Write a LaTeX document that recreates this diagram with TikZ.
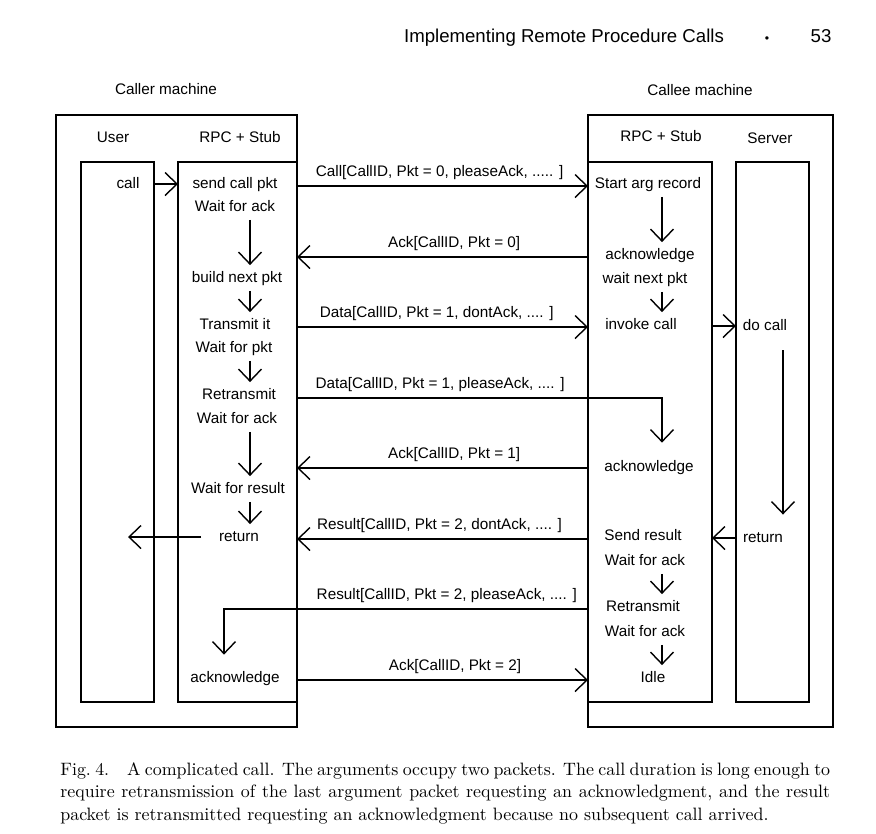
\documentclass[tikz,border=0pt]{standalone}
\usepackage{fontspec}
\newfontfamily\diagfont{Liberation Sans}
\usetikzlibrary{arrows.meta}
\tikzset{
    box/.style={draw, line width=1.3pt, inner sep=0pt, outer sep=0pt},
    lane/.style={draw, line width=0.7pt, inner sep=0pt, outer sep=0pt},
    lbl/.style={font=\diagfont\fontsize{8.7}{10}\selectfont, inner sep=1pt, text height=6.5pt, text depth=1.8pt},
    msg/.style={line width=0.8pt, -{Straight Barb[length=0.24cm, width=0.46cm]}},
    flow/.style={msg, shorten <=2pt, shorten >=2pt}
}

\begin{document}
\begin{tikzpicture}[x=0.02cm, y=-0.02cm]
\useasboundingbox (0,0) rectangle (876,833);
\node[lbl, font=\diagfont\fontsize{10.6}{12}\selectfont] (title) at (564,38) {Implementing Remote Procedure Calls};
\node[inner sep=0pt, font=\diagfont\fontsize{7}{8}\selectfont] (dot) at (767,40) {\textbullet};
\node[lbl, font=\diagfont\fontsize{10.6}{12}\selectfont] (page) at (821,38) {53};

\node[box, minimum width=4.82cm, minimum height=12.24cm] (caller) at (176.5,421) {};
\node[box, minimum width=4.9cm, minimum height=12.24cm] (callee) at (710.5,421) {};
\node[lane, minimum width=1.46cm, minimum height=10.8cm] (user) at (117.5,432) {};
\node[lane, minimum width=2.38cm, minimum height=10.8cm] (lrpc) at (237.5,432) {};
\node[lane, minimum width=2.48cm, minimum height=10.8cm] (rrpc) at (650,432) {};
\node[lane, minimum width=1.46cm, minimum height=10.8cm] (server) at (772.5,432) {};

\node[lbl] (callername) at (166,90) {Caller machine};
\node[lbl] (calleename) at (700,91) {Callee machine};
\node[lbl] (userhd) at (113,138) {User};
\node[lbl] (lrpchd) at (240,138) {RPC + Stub};
\node[lbl] (rrpchd) at (661,137) {RPC + Stub};
\node[lbl] (serverhd) at (770,139) {Server};

\node[lbl] (ucall) at (128,184) {call};
\node[lbl] (lsend) at (235,184) {send call pkt};
\node[lbl] (lwait1) at (235,207) {Wait for ack};
\node[lbl] (lbuild) at (237,278) {build next pkt};
\node[lbl] (ltrans) at (235,325) {Transmit it};
\node[lbl] (lwait2) at (234,348) {Wait for pkt};
\node[lbl] (lretr) at (239,395) {Retransmit};
\node[lbl] (lwait3) at (237,419) {Wait for ack};
\node[lbl] (lresult) at (238,489) {Wait for result};
\node[lbl] (lret) at (239,537) {return};
\node[lbl] (lack) at (235,678) {acknowledge};

\node[lbl] (rstart) at (648,184) {Start arg record};
\node[lbl] (rack0) at (650,255) {acknowledge};
\node[lbl] (rnext) at (645,279) {wait next pkt};
\node[lbl] (rinvoke) at (641,325) {invoke call};
\node[lbl] (rack1) at (649,467) {acknowledge};
\node[lbl] (rsend) at (643,536) {Send result};
\node[lbl] (rwait1) at (645,561) {Wait for ack};
\node[lbl] (rretr) at (643,607) {Retransmit};
\node[lbl] (rwait2) at (645,632) {Wait for ack};
\node[lbl] (ridle) at (653,678) {Idle};

\node[lbl] (sdo) at (765,326) {do call};
\node[lbl] (sret) at (763,538) {return};

\coordinate (la) at (250,0);
\coordinate (lb) at (224,0);
\coordinate (ra) at (662,0);
\coordinate (sa) at (783,0);
\coordinate (r1) at (0,186);
\coordinate (r2) at (0,257);
\coordinate (r3) at (0,327);
\coordinate (r4) at (0,398);
\coordinate (r5) at (0,468);
\coordinate (r6) at (0,539);
\coordinate (r7) at (0,609);
\coordinate (r8) at (0,680);

\draw[msg] (user.east |- ucall) -- (lrpc.west |- ucall);
\draw[flow] (lwait1.south -| la) -- (lbuild.north -| la);
\draw[flow] (lbuild.south -| la) -- (ltrans.north -| la);
\draw[flow] (lwait2.south -| la) -- (lretr.north -| la);
\draw[flow] (lwait3.south -| la) -- (lresult.north -| la);
\draw[flow] (lresult.south -| la) -- (lret.north -| la);
\draw[msg, shorten <=9pt] (lret.west) -- (ucall |- lret);

\draw[flow] (rstart.south -| ra) -- (rack0.north -| ra);
\draw[flow] (rnext.south -| ra) -- (rinvoke.north -| ra);
\draw[flow] (rwait1.south -| ra) -- (rretr.north -| ra);
\draw[flow] (rwait2.south -| ra) -- (ridle.north -| ra);
\draw[msg] (rrpc.east |- sdo) -- (server.west |- sdo);
\draw[msg, shorten <=8.5pt, shorten >=8pt] (sdo.south -| sa) -- (sret.north -| sa);
\draw[msg] (server.west |- sret) -- (rrpc.east |- sret);

\draw[msg] (lrpc.east |- r1) -- node[lbl, above=2pt, pos=0.49] {Call[CallID, Pkt = 0, pleaseAck, ..... ]} (rrpc.west |- r1);
\draw[msg] (rrpc.west |- r2) -- node[lbl, above=2pt, pos=0.46] {Ack[CallID, Pkt = 0]} (lrpc.east |- r2);
\draw[msg] (lrpc.east |- r3) -- node[lbl, above=2pt, pos=0.48] {Data[CallID, Pkt = 1, dontAck, .... ]} (rrpc.west |- r3);
\draw[msg, shorten >=0.3cm] (lrpc.east |- r4) -| node[lbl, above=2pt, pos=0.196] {Data[CallID, Pkt = 1, pleaseAck, .... ]} (rack1.north -| ra);
\draw[msg] (rrpc.west |- r5) -- node[lbl, above=2pt, pos=0.46] {Ack[CallID, Pkt = 1]} (lrpc.east |- r5);
\draw[msg] (rrpc.west |- r6) -- node[lbl, above=2pt, pos=0.51] {Result[CallID, Pkt = 2, dontAck, .... ]} (lrpc.east |- r6);
\draw[msg, shorten >=0.28cm] (rrpc.west |- r7) -| node[lbl, above=2pt, pos=0.194] {Result[CallID, Pkt = 2, pleaseAck, .... ]} (lack.north -| lb);
\draw[msg] (lrpc.east |- r8) -- node[lbl, above=2pt, pos=0.543] {Ack[CallID, Pkt = 2]} (rrpc.west |- r8);

\node[anchor=north west, text width=15.4cm, align=justify, inner sep=0pt, font=\fontsize{10.2}{12.8}\selectfont] (caption) at (60,762)
  {Fig.~4.\quad A complicated call. The arguments occupy two packets. The call duration is long enough to\linebreak
   require retransmission of the last argument packet requesting an acknowledgment, and the result\linebreak
   packet is retransmitted requesting an acknowledgment because no subsequent call arrived.};
\end{tikzpicture}
\end{document}
